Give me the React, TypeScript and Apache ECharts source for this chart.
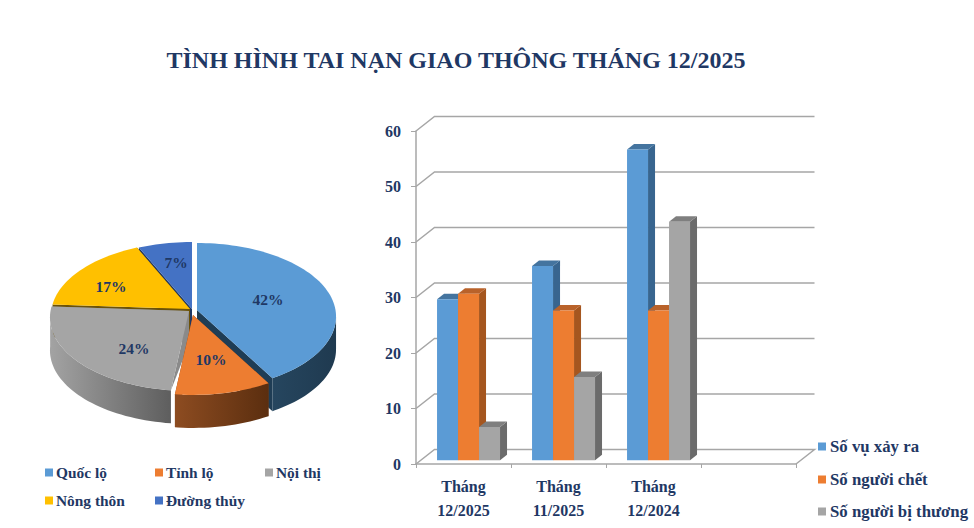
import React, { useEffect, useRef } from "react";
import * as echarts from "echarts";

const titleText = "TÌNH HÌNH TAI NẠN GIAO THÔNG THÁNG 12/2025";
const categories = ["Tháng\n12/2025", "Tháng\n11/2025", "Tháng\n12/2024", ""];
const yTicks = [0, 10, 20, 30, 40, 50, 60];
const accidents = [29, 35, 56];
const deaths = [30, 27, 27];
const injured = [6, 15, 43];
const sliceNames = ["Quốc lộ", "Tỉnh lộ", "Nội thị", "Nông thôn", "Đường thủy"];
const sliceValues = [41.6, 10.3, 24.1, 17.2, 6.8];

const NAVY = "#1F3864";
const FONT = '"Liberation Serif", "Times New Roman", serif';
const GRID = "#A6A6A6";

// ---- bar styling
const barLooks = [
  { front: "#5B9BD5", side: "#38658F", top: "#44749F" },
  { front: "#ED7D31", side: "#A5561F", top: "#B9622A" },
  { front: "#A5A5A5", side: "#6B6B6B", top: "#7F7F7F" },
];
const WALL_DX = 18.5;
const WALL_DY = 14.5;

// ---- pie projection
const PIE_A = 72.9;
const PIE_B = 138.5;
const PIE_K = 0.088;
const PIE_DEPTH = 33;
const PIE_CX = 192;
const PIE_CY = 310;
const rad = (d: number) => (d * Math.PI) / 180;
const side = (left: string, right: string) => ({
  type: "linear", x: 0, y: 0, x2: 1, y2: 0,
  colorStops: [{ offset: 0, color: left }, { offset: 1, color: right }],
});
const sliceLooks = [
  { color: "#5B9BD5", ox: 5, oy: 0, wall: "#1F3D55", side: side("#26465F", "#1F3A50"), lx: 268, ly: 299, rimWall: true },
  { color: "#ED7D31", ox: 1, oy: 5, wall: "#7A3F18", side: side("#8D4C21", "#5B2E0F"), lx: 211, ly: 359, rimWall: true },
  { color: "#A5A5A5", ox: -3, oy: 1, wall: "#8A8A8A", side: side("#A3A3A3", "#5E5E5E"), lx: 134, ly: 348, rimWall: false },
  { color: "#FFC000", ox: -2, oy: -1, wall: "#6B5208", side: side("#806000", "#806000"), lx: 111, ly: 286, rimWall: true },
  { color: "#4472C4", ox: 0, oy: -1, wall: "#1F3864", side: side("#223A66", "#223A66"), lx: 176, ly: 262, rimWall: true },
];
const pieDrawOrder = [4, 3, 0, 2, 1];

function project(deg: number, f: number, ox: number, oy: number) {
  const X = f * Math.sin(rad(deg));
  const Y = f * Math.cos(rad(deg));
  const d = 1 + PIE_K * Y;
  return [PIE_CX + ox + (PIE_B * X) / d, PIE_CY + oy - (PIE_A * Y) / d];
}

function pieSeries(i: number) {
  const total = sliceValues.reduce((a, b) => a + b, 0);
  const look = sliceLooks[i];
  return {
    type: "custom",
    name: sliceNames[i],
    coordinateSystem: "none",
    silent: true,
    itemStyle: { color: look.color },
    data: [[sliceValues[i]]],
    renderItem: (_p: any, api: any) => {
      const before = sliceValues.slice(0, i).reduce((a, b) => a + b, 0);
      const a0 = (before / total) * 360;
      const a1 = ((before + api.value(0)) / total) * 360;
      const { ox, oy } = look;
      const apex = [PIE_CX + ox, PIE_CY + oy];
      const down = (p: number[]) => [p[0], p[1] + PIE_DEPTH];
      const rimPts: number[][] = [];
      for (let d = a0; d < a1; d += 2) rimPts.push(project(d, 1, ox, oy));
      rimPts.push(project(a1, 1, ox, oy));
      const children: any[] = [];
      // radial walls, seen through the gaps between slices
      [a0, a1].forEach((ang) => {
        const r = project(ang, 1, ox, oy);
        children.push({
          type: "polygon",
          shape: { points: [apex, r, look.rimWall ? down(r) : r, down(apex)] },
          style: { fill: look.wall },
        });
      });
      // outer rim
      const s0 = Math.max(a0, 95);
      const s1 = Math.min(a1, 268);
      if (s1 > s0) {
        const arc: number[][] = [];
        for (let d = s0; d < s1; d += 2) arc.push(project(d, 1, ox, oy));
        arc.push(project(s1, 1, ox, oy));
        children.push({
          type: "polygon",
          shape: { points: [...arc, ...arc.slice().reverse().map(down)] },
          style: { fill: look.side },
        });
      }
      // top face
      children.push({
        type: "polygon",
        shape: { points: [apex, ...rimPts] },
        style: { fill: look.color },
      });
      children.push({
        type: "text",
        x: look.lx,
        y: look.ly,
        style: {
          text: Math.round((api.value(0) / total) * 100) + "%",
          fill: NAVY,
          font: `bold 15.5px ${FONT}`,
          align: "center",
          verticalAlign: "middle",
        },
      });
      return { type: "group", children };
    },
  };
}

function barSeries(name: string, values: number[], idx: number) {
  const look = barLooks[idx];
  return {
    type: "custom",
    name,
    silent: true,
    itemStyle: { color: look.front },
    encode: { x: 0, y: 1 },
    data: values.map((v, c) => [c, v]),
    renderItem: (_p: any, api: any) => {
      const base = api.coord([api.value(0), 0]);
      const top = api.coord([api.value(0), api.value(1)]);
      const band = api.size([1, 0])[0];
      const w = band * 0.221;
      const x = base[0] + band * 0.053 - 1.5 * w + idx * w;
      const yb = base[1] - 3.7;
      const yt = top[1] - 3.7;
      const dx = 7;
      const dy = 5.5;
      return {
        type: "group",
        children: [
          {
            type: "polygon",
            shape: { points: [[x + w, yt], [x + w + dx, yt - dy], [x + w + dx, yb - dy], [x + w, yb]] },
            style: { fill: look.side },
          },
          {
            type: "polygon",
            shape: { points: [[x, yt], [x + dx, yt - dy], [x + w + dx, yt - dy], [x + w, yt]] },
            style: { fill: look.top },
          },
          { type: "rect", shape: { x, y: yt, width: w, height: yb - yt }, style: { fill: look.front } },
        ],
      };
    },
  };
}

const wallSeries = {
  type: "custom",
  silent: true,
  encode: { x: 0, y: 1 },
  data: yTicks.map((v) => [0, v]),
  renderItem: (p: any, api: any) => {
    const y = api.coord([0, api.value(1)])[1];
    const left = p.coordSys.x;
    const right = left + p.coordSys.width;
    const style = { stroke: GRID, lineWidth: 1.5, fill: "none" };
    const pts = [[left, y], [left + WALL_DX, y - WALL_DY], [right + WALL_DX, y - WALL_DY]];
    if (api.value(1) === 0) pts.push([right, y]);
    return { type: "polyline", shape: { points: pts }, style };
  },
};

function legendAt(name: string, left: number, top: number, fontSize: number, nudge: number) {
  return {
    show: true,
    data: [name],
    left,
    top,
    padding: 0,
    itemWidth: 8,
    itemHeight: 8,
    itemGap: 0,
    icon: "rect",
    selectedMode: false,
    textStyle: { color: NAVY, fontFamily: FONT, fontWeight: "bold", fontSize, padding: [0, 0, 0, nudge] },
  };
}

export default function App() {
  const ref = useRef<HTMLDivElement>(null);
  useEffect(() => {
    document.body.style.margin = "0";
    const chart = echarts.init(ref.current!, undefined, { renderer: "svg" });
    chart.setOption({
      animation: false,
      backgroundColor: "#FFFFFF",
      title: {
        text: titleText,
        left: 451,
        top: 43,
        textAlign: "center",
        textStyle: { color: NAVY, fontFamily: FONT, fontWeight: "bold", fontSize: 24 },
      },
      legend: [
        legendAt(sliceNames[0], 45, 465, 15.4, -2),
        legendAt(sliceNames[1], 155, 465, 15.4, -2),
        legendAt(sliceNames[2], 265, 465, 15.4, -2),
        legendAt(sliceNames[3], 45, 493, 15.4, -2),
        legendAt(sliceNames[4], 155, 493, 15.4, -2),
        legendAt("Số vụ xảy ra", 818, 438, 16.8, -1),
        legendAt("Số người chết", 818, 471, 16.8, -1),
        legendAt("Số người bị thương", 818, 503, 16.8, -1),
      ],
      grid: { left: 416, right: 178, top: 131, bottom: 64 },
      xAxis: {
        type: "category",
        data: categories,
        axisLine: { lineStyle: { color: GRID, width: 1.5 } },
        axisTick: { show: true, length: 4, lineStyle: { color: GRID, width: 1 }, alignWithLabel: false },
        axisLabel: {
          color: NAVY,
          fontFamily: FONT,
          fontWeight: "bold",
          fontSize: 16,
          lineHeight: 24,
          margin: 10,
          interval: 0,
        },
        splitLine: { show: false },
      },
      yAxis: {
        type: "value",
        min: 0,
        max: 60,
        interval: 10,
        axisLine: { show: true, lineStyle: { color: GRID, width: 1.5 } },
        axisTick: { show: true, length: 5, lineStyle: { color: GRID } },
        axisLabel: { color: NAVY, fontFamily: FONT, fontWeight: "bold", fontSize: 16, margin: 15 },
        splitLine: { show: false },
      },
      series: [
        wallSeries,
        barSeries("Số vụ xảy ra", accidents, 0),
        barSeries("Số người chết", deaths, 1),
        barSeries("Số người bị thương", injured, 2),
        ...pieDrawOrder.map(pieSeries),
      ],
    });
    return () => chart.dispose();
  }, []);
  return <div ref={ref} style={{ width: 974, height: 528 }} />;
}
